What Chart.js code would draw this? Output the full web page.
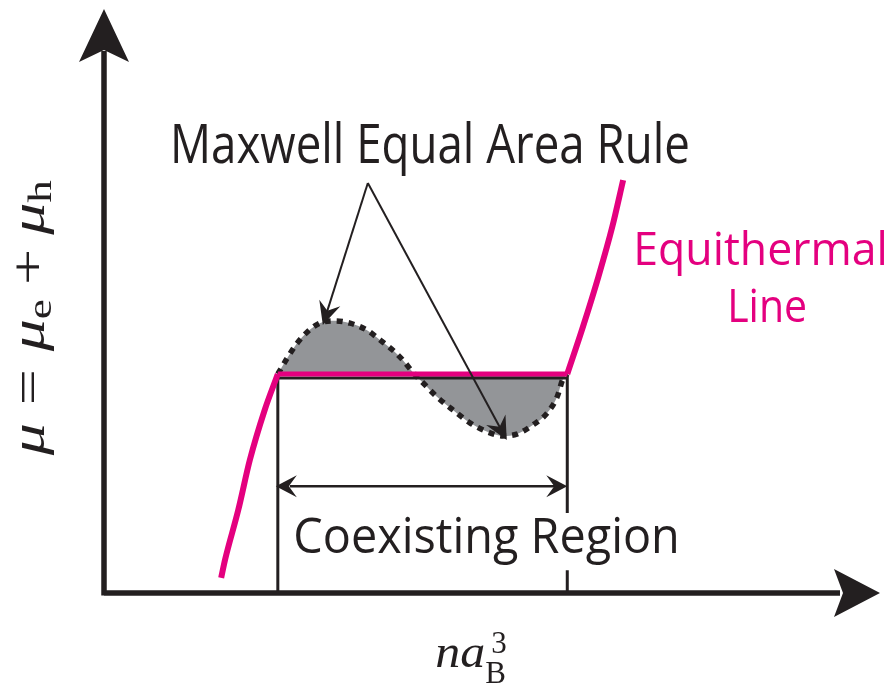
<!DOCTYPE html>
<html>
<head>
<meta charset="utf-8">
<script src="https://cdn.jsdelivr.net/npm/chart.js@4.4.1/dist/chart.umd.min.js"></script>
<style>
  html, body { margin: 0; padding: 0; background: #fff; }
  #wrap { width: 894px; height: 686px; }
</style>
</head>
<body>
<div id="wrap"><canvas id="phase-chart" width="894" height="686"></canvas></div>
<script>
// isotherm pieces (x = n a_B^3, y = chemical potential, arbitrary units)
var leftBranchX = [1.51, 1.56, 1.73, 1.88, 2.07, 2.24];
var leftBranchY = [0.26, 0.57, 1.42, 2.28, 3.13, 3.75];
var rightBranchX = [5.97, 6.17, 6.37, 6.55, 6.69];
var rightBranchY = [3.75, 4.55, 5.41, 6.27, 7.07];
// unstable van der Waals loop inside the coexisting region
var loopX = [2.24, 2.36, 2.49, 2.62, 2.78, 2.98, 3.17, 3.39, 3.56, 3.72, 3.85, 3.98,
             4.11, 4.29, 4.50, 4.72, 4.94, 5.14, 5.32, 5.53, 5.71, 5.84, 5.91, 5.97];
var loopY = [3.75, 4.02, 4.28, 4.47, 4.62, 4.66, 4.62, 4.50, 4.33, 4.16, 3.99, 3.78,
             3.60, 3.36, 3.13, 2.91, 2.76, 2.69, 2.72, 2.88, 3.08, 3.36, 3.65, 3.75];
var coexistX = [2.24, 5.97];
var equalY = 3.75;
var boxTopY = 3.68;
var regionArrowY = 1.83;
var boxGapY = [1.37, 0.39];
var maxwellFrom = [3.40, 7.02];
var maxwellTipsX = [2.82, 5.19];
var maxwellTipsY = [4.59, 2.62];

var pink = '#e4007f';
var ink = '#231f20';
var grey = '#939598';

function toPoints(xs, ys) {
    return xs.map(function (x, i) { return { x: x, y: ys[i] }; });
}

// notched arrow head, tip at (x, y) pointing along angle
function arrowHead(ctx, x, y, angle, len, half, notch) {
    ctx.save();
    ctx.translate(x, y);
    ctx.rotate(angle);
    ctx.beginPath();
    ctx.moveTo(0, 0);
    ctx.lineTo(-len, -half);
    ctx.lineTo(-notch, 0);
    ctx.lineTo(-len, half);
    ctx.closePath();
    ctx.fill();
    ctx.restore();
}

function fitText(ctx, text, left, right, baseline, size, family, color) {
    ctx.save();
    ctx.font = size + 'px ' + family;
    var w = ctx.measureText(text).width;
    ctx.translate(left, baseline);
    ctx.scale((right - left) / w, 1);
    ctx.fillStyle = color;
    ctx.textBaseline = 'alphabetic';
    ctx.fillText(text, 0, 0);
    ctx.restore();
}

// lays out a run of math pieces along local x, scaled to a given length
function mathRun(ctx, pieces, size, length) {
    var total = 0;
    pieces.forEach(function (p) {
        if (p.gap) { total += p.gap * size; return; }
        ctx.font = (p.italic ? 'italic ' : '') + Math.round(size * (p.scale || 1)) + 'px "Liberation Serif"';
        p.w = ctx.measureText(p.t).width;
        total += p.w;
    });
    var k = length / total;
    ctx.save();
    ctx.scale(k, 1);
    var pos = 0;
    ctx.fillStyle = ink;
    ctx.textBaseline = 'alphabetic';
    pieces.forEach(function (p) {
        if (p.gap) { pos += p.gap * size; return; }
        ctx.font = (p.italic ? 'italic ' : '') + Math.round(size * (p.scale || 1)) + 'px "Liberation Serif"';
        ctx.fillText(p.t, pos, (p.dy || 0) * size);
        pos += p.w;
    });
    ctx.restore();
}

var diagramPlugin = {
    id: 'diagram',
    afterDatasetsDraw: function (chart) {
        var ctx = chart.ctx;
        var sx = chart.scales.x, sy = chart.scales.y;
        var px = function (v) { return sx.getPixelForValue(v); };
        var py = function (v) { return sy.getPixelForValue(v); };
        ctx.save();
        ctx.fillStyle = ink;
        ctx.strokeStyle = ink;

        // axes with arrow heads
        var x0 = px(0), y0 = py(0), xEnd = px(sx.max), yEnd = py(sy.max);
        ctx.lineWidth = 5.5;
        ctx.beginPath();
        ctx.moveTo(x0, y0);
        ctx.lineTo(xEnd - 40, y0);
        ctx.moveTo(x0, y0 + 2.5);
        ctx.lineTo(x0, yEnd + 42);
        ctx.stroke();
        arrowHead(ctx, xEnd, y0, 0, 46, 24, 37);
        arrowHead(ctx, x0, yEnd, -Math.PI / 2, 53, 25, 41);

        // coexisting region double arrow
        var ay = py(regionArrowY), ax1 = px(coexistX[0]), ax2 = px(coexistX[1]);
        ctx.lineWidth = 2.5;
        ctx.beginPath();
        ctx.moveTo(ax1 + 12, ay);
        ctx.lineTo(ax2 - 12, ay);
        ctx.stroke();
        arrowHead(ctx, ax1 - 2, ay, Math.PI, 21, 11, 13);
        arrowHead(ctx, ax2, ay, 0, 21, 11, 13);

        // pointers from the Maxwell label
        var fx = px(maxwellFrom[0]), fy = py(maxwellFrom[1]);
        ctx.lineWidth = 2;
        maxwellTipsX.forEach(function (tx, i) {
            var tpx = px(tx), tpy = py(maxwellTipsY[i]);
            var ang = Math.atan2(tpy - fy, tpx - fx);
            ctx.beginPath();
            ctx.moveTo(fx, fy);
            ctx.lineTo(tpx - 14 * Math.cos(ang), tpy - 14 * Math.sin(ang));
            ctx.stroke();
            arrowHead(ctx, tpx, tpy, ang, 23, 11, 15);
        });

        // text labels
        var sans = '"Open Sans"';
        fitText(ctx, 'Maxwell Equal Area Rule', px(0.85), px(7.55), py(7.36), 55, sans, ink);
        fitText(ctx, 'Equithermal', px(6.82), px(10.10), py(5.62), 46, sans, pink);
        fitText(ctx, 'Line', px(8.03), px(9.06), py(4.64), 45, sans, pink);
        fitText(ctx, 'Coexisting Region', px(2.44), px(7.42), py(0.68), 50, sans, ink);

        // y label: mu = mu_e + mu_h, rotated
        ctx.save();
        ctx.translate(px(-0.77), py(2.36));
        ctx.rotate(-Math.PI / 2);
        mathRun(ctx, [
            { t: '\u03bc', italic: true },
            { gap: 0.28 }, { t: '=' }, { gap: 0.28 },
            { t: '\u03bc', italic: true }, { t: 'e', scale: 0.7, dy: 0.15 },
            { gap: 0.22 }, { t: '+' }, { gap: 0.22 },
            { t: '\u03bc', italic: true }, { t: 'h', scale: 0.7, dy: 0.15 }
        ], 48, py(2.36) - py(7.07));
        ctx.restore();

        // x label: n a_B^3
        ctx.save();
        var lx = px(4.27), lb = py(-1.27);
        ctx.translate(lx, lb);
        mathRun(ctx, [{ t: 'n', italic: true }, { t: 'a', italic: true }], 46, 50);
        ctx.font = '31px "Liberation Serif"';
        ctx.fillStyle = ink;
        ctx.fillText('B', 50, 16);
        ctx.fillText('3', 56, -14);
        ctx.restore();

        ctx.restore();
    }
};

var boxPoints = [
    { x: coexistX[0], y: 0 }, { x: coexistX[0], y: boxTopY },
    { x: coexistX[1], y: boxTopY }, { x: coexistX[1], y: boxGapY[0] },
    { x: coexistX[1], y: null }, { x: coexistX[1], y: boxGapY[1] },
    { x: coexistX[1], y: 0 }
];

var context = document.getElementById('phase-chart').getContext('2d');
var phaseChart = new Chart(context, {
    type: 'line',
    data: {
        datasets: [{
            data: toPoints(loopX, loopY),
            borderColor: ink,
            borderWidth: 5.5,
            borderDash: [6, 6],
            borderCapStyle: 'butt',
            backgroundColor: grey,
            fill: { value: equalY },
            cubicInterpolationMode: 'monotone',
            order: 4
        }, {
            data: boxPoints,
            borderColor: ink,
            borderWidth: 3,
            spanGaps: false,
            tension: 0,
            fill: false,
            order: 3
        }, {
            data: toPoints(leftBranchX, leftBranchY),
            borderColor: pink,
            borderWidth: 6,
            cubicInterpolationMode: 'monotone',
            fill: false,
            order: 1
        }, {
            data: toPoints(coexistX, [equalY, equalY]),
            borderColor: pink,
            borderWidth: 5,
            fill: false,
            order: 1
        }, {
            data: toPoints(rightBranchX, rightBranchY),
            borderColor: pink,
            borderWidth: 6,
            cubicInterpolationMode: 'monotone',
            fill: false,
            order: 1
        }]
    },
    options: {
        responsive: false,
        animation: false,
        layout: { padding: { left: 104, right: 14, top: 9, bottom: 93 } },
        elements: { point: { radius: 0 } },
        scales: {
            x: { type: 'linear', min: 0, max: 10, display: false },
            y: { type: 'linear', min: 0, max: 10, display: false }
        },
        plugins: {
            legend: { display: false },
            tooltip: { enabled: false }
        }
    },
    plugins: [diagramPlugin]
});
</script>
</body>
</html>
